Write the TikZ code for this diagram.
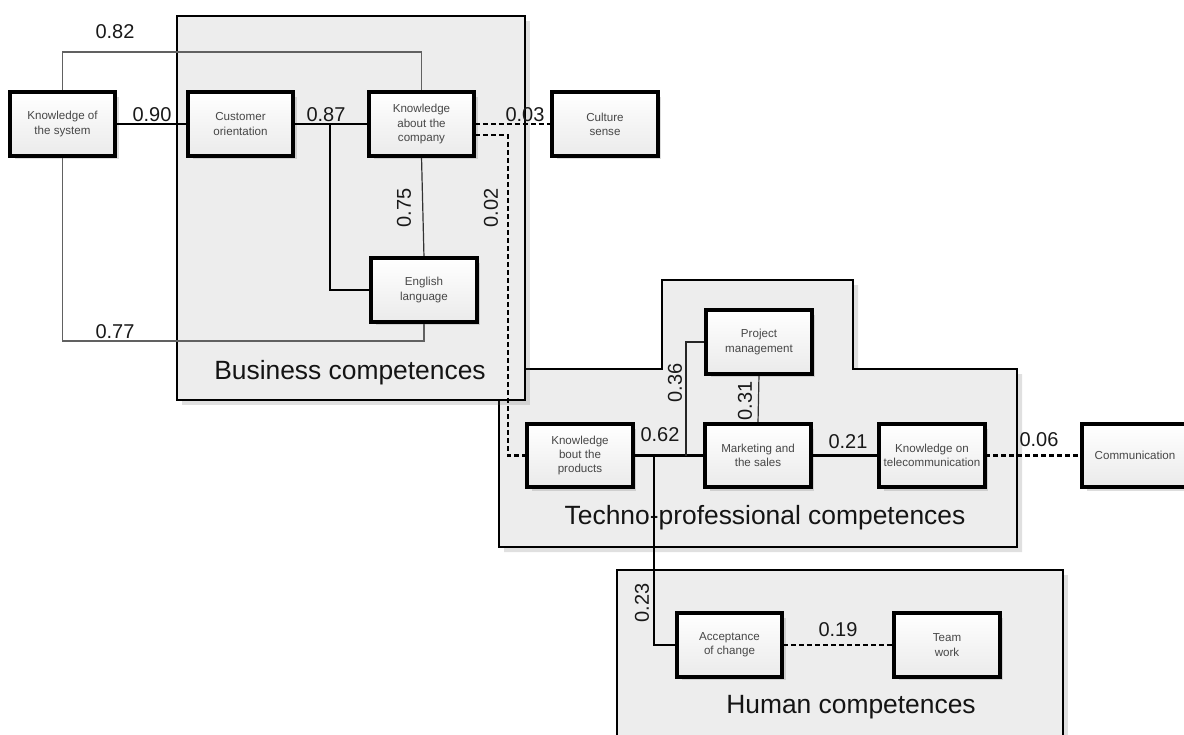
\documentclass[tikz,border=0pt]{standalone}
\usepackage{fontspec}
\setmainfont{Liberation Sans}
\usetikzlibrary{shadows,calc}
\begin{document}
\begin{tikzpicture}[x=1pt,y=-1pt,
  competence/.style={draw=black,line width=2.8pt,minimum width=104pt,minimum height=62pt,
    inner sep=1pt,align=center,font=\fontsize{11.6}{14.2}\selectfont,text=black!72,
    top color=white,bottom color=black!8,
    drop shadow={shadow xshift=4pt,shadow yshift=-4pt,opacity=0.22,fill=black!60}},
  group/.style={draw=black,line width=2.8pt,fill=black!7,
    drop shadow={shadow xshift=5pt,shadow yshift=-5pt,opacity=0.2,fill=black!60}},
  grouptitle/.style={font=\fontsize{26.4}{26.4}\selectfont,text=black!92,inner sep=0pt},
  weight/.style={font=\fontsize{20}{20}\selectfont,text=black!90,inner sep=0pt},
  strong/.style={line width=2.7pt,draw=black},
  medium/.style={line width=1.8pt,draw=black!85},
  weak/.style={line width=1.2pt,draw=black!80},
  faint/.style={line width=1.1pt,draw=black!62},
  dashline/.style={line width=2.8pt,draw=black,dash pattern=on 5pt off 3pt},
]
\useasboundingbox (0,0) rectangle (1184,734);
\clip (0,0) rectangle (1184,734);

% competence groups
\path[group] (499,547) -- (499,369) -- (662,369) -- (662,280) -- (853,280)
  -- (853,369) -- (1017,369) -- (1017,547) -- cycle;
\path[group] (617,570) rectangle (1063,760);
\path[group] (177,16) rectangle (525,400);

\node[grouptitle] (tBus) at (350,373) {Business competences};
\node[grouptitle] (tTec) at (765,518) {Techno-professional competences};
\node[grouptitle] (tHum) at (851,707) {Human competences};

% competences
\node[competence] (sys)  at (62.5,124)  {Knowledge of\\the system};
\node[competence] (cust) at (240.5,124) {Customer\\orientation};
\node[competence] (comp) at (421.5,124) {Knowledge\\about the\\company};
\node[competence] (eng)  at (424,290)   {English\\language};
\node[competence] (cult) at (605,124)   {Culture\\sense};
\node[competence] (prod) at (580,455.5) {Knowledge\\bout the\\products};
\node[competence] (proj) at (759,342)   {Project\\management};
\node[competence] (mkt)  at (758,455.5) {Marketing and\\the sales};
\node[competence] (tel)  at (932,455.5) {Knowledge on\\telecommunication};
\node[competence] (comm) at (1135,455.5){Communication};
\node[competence] (acc)  at (729.5,645) {Acceptance\\of change};
\node[competence] (team) at (947,645)   {Team\\work};

% bend points of the connectors
\coordinate (top82) at (240,52);
\coordinate (bot77) at (240,341);
\coordinate (j87) at (330,124);
\coordinate (d02) at (508,300);
\coordinate (j36) at (686,455.5);
\coordinate (j23) at (654,455.5);

% connectors
\draw[faint] (sys.north) |- (top82) -| (comp.north);
\draw[faint] (sys.south) |- (bot77) -| (eng.south);
\draw[strong] (sys.east) -- (cust.west);
\draw[strong] (cust.east) -- (comp.west);
\draw[strong] (j87) |- (eng.west);
\draw[weak] (comp.south) -- (eng.north);
\draw[dashline] (comp.east) -- (cult.west);
\draw[dashline] ([yshift=-11pt]comp.east) -| (d02) |- (prod.west);
\draw[strong] (prod.east) -- (mkt.west);
\draw[medium] (j36) |- (proj.west);
\draw[weak] (proj.south) -- (mkt.north);
\draw[strong] (mkt.east) -- (tel.west);
\draw[dashline] (tel.east) -- (comm.west);
\draw[strong] (j23) |- (acc.west);
\draw[dashline] (acc.east) -- (team.west);

% box outlines drawn again over the connector ends
\foreach \n in {sys,cust,comp,eng,cult,prod,proj,mkt,tel,comm,acc,team}
  \draw[line width=2.8pt] (\n.south west) rectangle (\n.north east);

% correlation weights
\node[weight] (w82) at (115,32)  {0.82};
\node[weight] (w77) at (115,332) {0.77};
\node[weight] (w90) at (152,115) {0.90};
\node[weight] (w87) at (326,115) {0.87};
\node[weight,rotate=90] (w75) at (404,208) {0.75};
\node[weight,rotate=90] (w02) at (491,208) {0.02};
\node[weight] (w03) at (525,115) {0.03};
\node[weight,rotate=90] (w36) at (675,383) {0.36};
\node[weight,rotate=90] (w31) at (745,401) {0.31};
\node[weight] (w62) at (660,435) {0.62};
\node[weight] (w21) at (848,442) {0.21};
\node[weight] (w06) at (1039,440) {0.06};
\node[weight,rotate=90] (w23) at (642,603) {0.23};
\node[weight] (w19) at (838,630) {0.19};
\end{tikzpicture}
\end{document}
